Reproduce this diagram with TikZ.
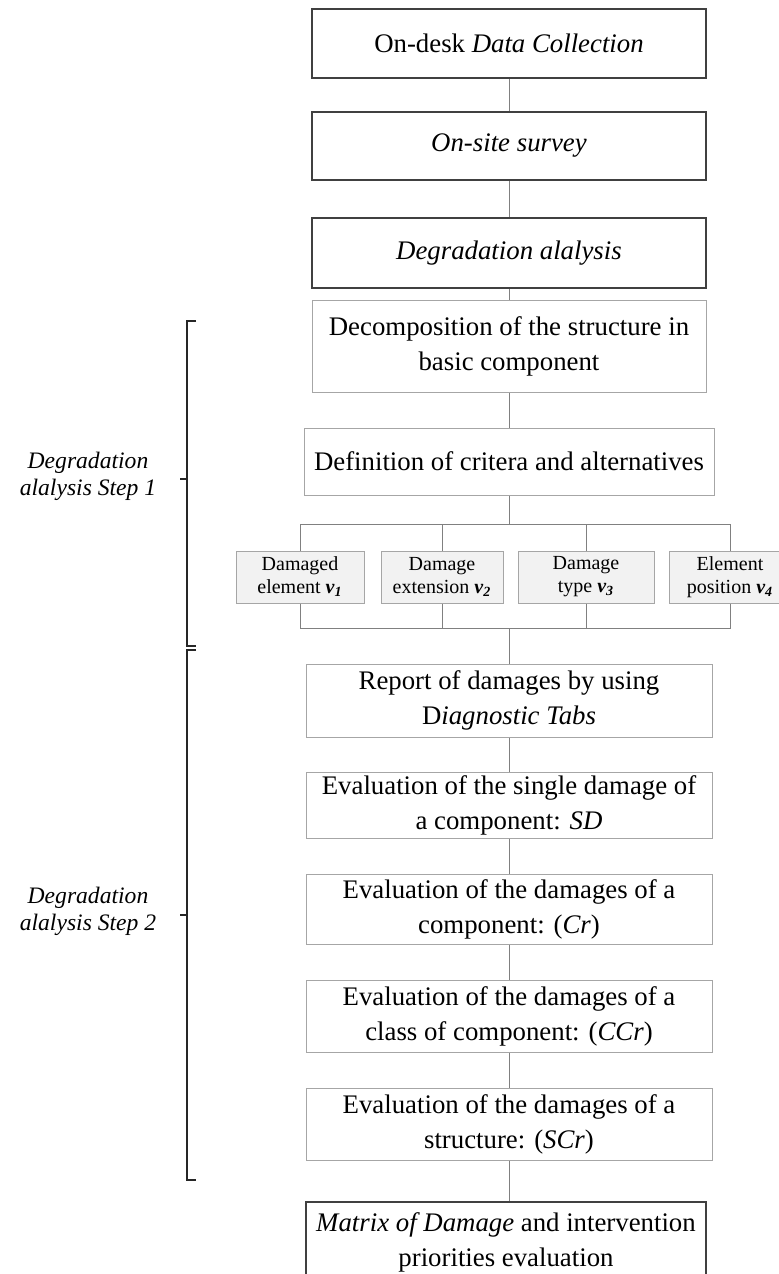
\documentclass[tikz,border=0pt]{standalone}
\usepackage{fontspec}
\usepackage{xcolor}
\usepackage{tikz}
\usetikzlibrary{positioning, calc}
\newfontfamily\timesfont{Liberation Serif}
\definecolor{boxgray}{HTML}{A6A6A6}
\definecolor{boxdark}{HTML}{404040}
\definecolor{linegray}{HTML}{808080}
\definecolor{critfill}{HTML}{F2F2F2}
\definecolor{bracketdark}{HTML}{262626}
\newcommand{\vlab}[1]{\textbf{\textit{v\textsubscript{#1}}}}

\begin{document}
\begin{tikzpicture}[x=0.5pt, y=-0.5pt,
  flowbox/.style={draw=boxgray, line width=0.5pt, fill=white, minimum width=203pt, align=center, inner sep=1pt, font=\timesfont\fontsize{13.4}{17.5}\selectfont},
  keybox/.style={flowbox, minimum width=197pt, draw=boxdark, line width=1.1pt},
  critbox/.style={draw=boxgray, line width=0.5pt, fill=critfill, minimum height=26pt, align=center, inner sep=1pt, font=\timesfont\fontsize{10}{11.5}\selectfont},
  link/.style={draw=linegray, line width=0.5pt},
  bracket/.style={draw=bracketdark, line width=0.8pt},
  steplabel/.style={align=center, font=\timesfont\itshape\fontsize{11.8}{13.5}\selectfont}]

  % Page frame
  \useasboundingbox (0,0) rectangle (778,1274);

  % Data collection and survey
  \node[keybox, minimum height=34.5pt] (desk) at (509,43.5) {On-desk \textit{Data Collection}};
  \node[keybox, minimum height=34pt] (site) at (509,146) {\textit{On-site survey}};
  \node[keybox, minimum height=35pt] (degr) at (509,253) {\textit{Degradation alalysis}};

  % Step 1 boxes
  \node[flowbox, minimum width=197pt, minimum height=46pt] (decomp) at (509,346) {Decomposition of the structure in\\basic component};
  \node[flowbox, minimum width=205pt, minimum height=33.5pt] (crit) at (509,461.5) {Definition of critera and alternatives};

  % Criteria
  \foreach \x/\w/\nm/\lineA/\lineB/\k in {300/64pt/elem/Damaged/element/1, 442/61pt/ext/Damage/extension/2, 586/68pt/type/Damage/type/3, 730/61pt/pos/Element/position/4} {
    \node[critbox, minimum width=\w] (\nm) at (\x,577) {\lineA\\\lineB{} \vlab{\k}};
  }

  % Step 2 boxes
  \node[flowbox, minimum height=36.5pt] (report) at (509,700.5) {Report of damages by using\\D\textit{iagnostic Tabs}};
  \node[flowbox, minimum height=33pt] (single) at (509,805) {Evaluation of the single damage of\\a component: \textit{SD}};
  \node[flowbox, minimum height=35pt] (comp) at (509,909) {Evaluation of the damages of a\\component: (\textit{Cr})};
  \node[flowbox, minimum height=36pt] (cls) at (509,1016) {Evaluation of the damages of a\\class of component: (\textit{CCr})};
  \node[flowbox, minimum height=36pt] (struct) at (509,1124) {Evaluation of the damages of a\\structure: (\textit{SCr})};

  % Final box
  \node[keybox, minimum width=200pt, minimum height=40pt] (matrix) at (506,1242) {\textit{Matrix of Damage} and intervention\\priorities evaluation};

  % Connectors
  \draw[link] (desk) -- (site);
  \draw[link] (site) -- (degr);
  \draw[link] (degr) -- (decomp);
  \draw[link] (decomp) -- (crit);
  \coordinate (split) at (509,524);
  \coordinate (join) at (509,628);
  \draw[link] (crit.south) -- (split);
  \foreach \nm in {elem,ext,type,pos} {
    \draw[link] (split) -| (\nm.north);
    \draw[link] (\nm.south) |- (join);
  }
  \draw[link] (join) -- (report.north);
  \draw[link] (report) -- (single);
  \draw[link] (single) -- (comp);
  \draw[link] (comp) -- (cls);
  \draw[link] (cls) -- (struct);
  \draw[link] (struct.south) -- (struct.south |- matrix.north);

  % Brackets
  \draw[bracket] (196,321) -- (187,321) -- (187,646) -- (196,646);
  \draw[bracket] (187,479) -- (180,479);
  \draw[bracket] (196,650) -- (187,650) -- (187,1180) -- (196,1180);
  \draw[bracket] (187,915) -- (180,915);

  % Step labels
  \node[steplabel] (step1) at (88,476) {Degradation\\alalysis Step 1};
  \node[steplabel] (step2) at (88,911) {Degradation\\alalysis Step 2};
\end{tikzpicture}
\end{document}
